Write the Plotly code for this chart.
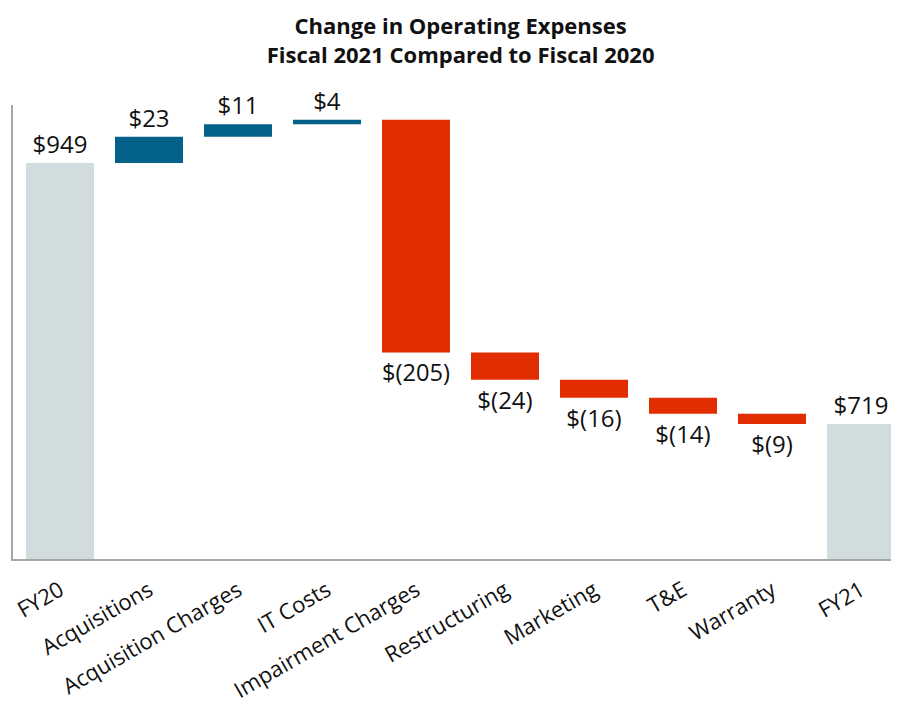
import plotly.graph_objects as go

categories = ["FY20", "Acquisitions", "Acquisition Charges", "IT Costs", "Impairment Charges",
              "Restructuring", "Marketing", "T&E", "Warranty", "FY21"]
values = [949, 23, 11, 4, -205, -24, -16, -14, -9, 719]
measures = ["absolute", "relative", "relative", "relative", "relative",
            "relative", "relative", "relative", "relative", "total"]

def fmt(v):
    return f"${v}" if v >= 0 else f"$({-v})"

labels = [fmt(v) for v in values]

fig = go.Figure(go.Waterfall(
    x=categories,
    y=values,
    measure=measures,
    text=labels,
    textposition="outside",
    cliponaxis=False,
    textfont=dict(family="Open Sans", size=24, color="#111111"),
    increasing=dict(marker=dict(color="#04618a")),
    decreasing=dict(marker=dict(color="#e22d00")),
    totals=dict(marker=dict(color="#d0dcde")),
    connector=dict(visible=False),
    width=[0.764] * len(categories),
))

fig.update_layout(
    width=891, height=701,
    margin=dict(l=5, r=0, t=97, b=150),
    paper_bgcolor="white", plot_bgcolor="white",
    showlegend=False,
    title=dict(
        text="Change in Operating Expenses<br>Fiscal 2021 Compared to Fiscal 2020",
        x=0.508, xanchor="center", y=0.963, yanchor="middle",
        font=dict(family="Open Sans", size=22, color="#111111", weight="bold"),
    ),
    xaxis=dict(
        range=[-0.528, 9.427],
        showline=True, linecolor="#a6a6a6", linewidth=2,
        ticks="", tickangle=-30, ticklabelstandoff=8,
        tickfont=dict(family="Open Sans", size=22, color="#111111"),
        showgrid=False,
    ),
    yaxis=dict(
        range=[600, 1000],
        showline=True, linecolor="#a6a6a6", linewidth=2,
        showticklabels=False, ticks="", showgrid=False, zeroline=False,
    ),
)

fig.write_html("out.html")
